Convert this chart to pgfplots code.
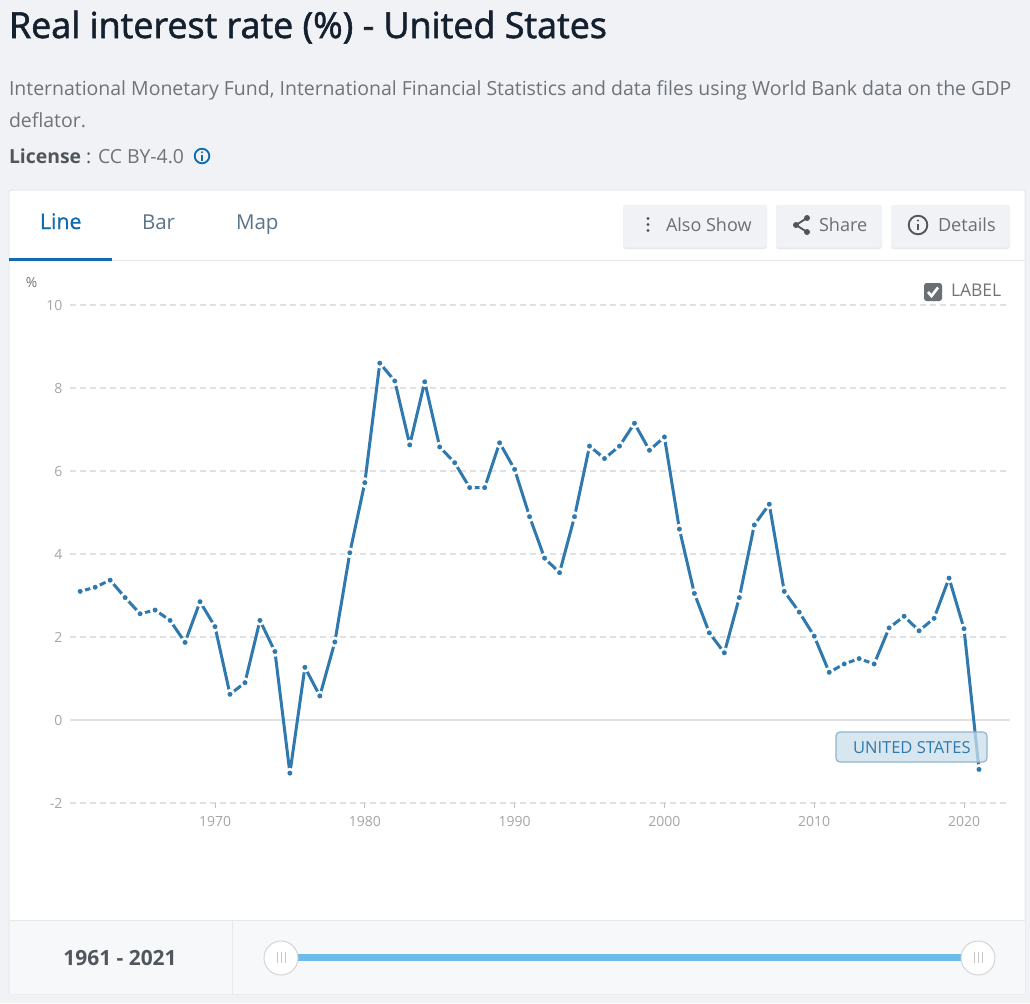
\documentclass[border=0pt]{standalone}
\usepackage{fontspec}
\usepackage{pgfplots}
\pgfplotsset{compat=1.18}
\setmainfont{Open Sans}
\newfontfamily\semib[FakeBold=1.6]{Open Sans}
\newfontfamily\semic[FakeBold=1.0]{Open Sans}
\definecolor{pagebg}{HTML}{F0F2F6}
\definecolor{footbg}{HTML}{F7F8FA}
\definecolor{edge}{HTML}{E6E8EB}
\definecolor{titlec}{HTML}{15202E}
\definecolor{subc}{HTML}{6F7378}
\definecolor{darkc}{HTML}{50565B}
\definecolor{tabblue}{HTML}{0F6CB0}
\definecolor{tabgray}{HTML}{5B7489}
\definecolor{linec}{HTML}{2F79AE}
\definecolor{gridc}{HTML}{DFE1E3}
\definecolor{tickc}{HTML}{A3A6A9}
\definecolor{slider}{HTML}{6DBBE8}
\newcommand{\fs}[1]{\fontsize{#1}{#1}\selectfont}
\pgfplotstableread{
year rate
1961 3.10
1962 3.20
1963 3.37
1964 2.95
1965 2.56
1966 2.65
1967 2.40
1968 1.87
1969 2.85
1970 2.25
1971 0.62
1972 0.90
1973 2.40
1974 1.65
1975 -1.28
1976 1.27
1977 0.58
1978 1.88
1979 4.03
1980 5.72
1981 8.60
1982 8.17
1983 6.63
1984 8.15
1985 6.58
1986 6.20
1987 5.60
1988 5.60
1989 6.68
1990 6.04
1991 4.90
1992 3.90
1993 3.55
1994 4.90
1995 6.60
1996 6.30
1997 6.60
1998 7.15
1999 6.50
2000 6.82
2001 4.60
2002 3.05
2003 2.10
2004 1.62
2005 2.95
2006 4.70
2007 5.20
2008 3.10
2009 2.60
2010 2.02
2011 1.15
2012 1.35
2013 1.48
2014 1.35
2015 2.22
2016 2.50
2017 2.15
2018 2.45
2019 3.42
2020 2.20
2021 -1.19
}\ratetable
\tikzset{txt/.style={inner sep=0pt,outer sep=0pt,anchor=base west},
  pxs/.style={x=0.75pt,y=-0.75pt}}
\begin{document}
\begin{tikzpicture}
\begin{scope}[pxs]
\path[use as bounding box] (0,0) rectangle (1030,1003);
\fill[pagebg] (0,0) rectangle (1030,1003);
% heading
\node[txt,text=titlec] at (9,38) {\semib\fs{26.9}Real interest rate (\%) - United States};
\node[txt,text=subc] at (9,95) {\fs{14.6}International Monetary Fund, International Financial Statistics and data files using World Bank data on the GDP};
\node[txt,text=subc] at (9,127) {\fs{14.6}deflator.};
\node[txt,text=darkc] at (9,163) {\fs{14.55}\textbf{License} : \textcolor{subc}{CC BY-4.0}};
\draw[tabblue,line width=1.4] (202,156) circle (7.3);
\fill[tabblue] (202,152.2) circle (1.1);
\fill[tabblue] (201,155) rectangle (203,160.5);
% card
\fill[white,draw=edge,line width=0.75,rounded corners=2] (9,190) rectangle (1025,994);
\fill[footbg] (9.5,920) rectangle (1024.5,993.5);
\draw[edge,line width=0.75] (9,920) -- (1025,920);
\draw[edge,line width=0.75] (232.5,920) -- (232.5,994);
\draw[edge,line width=0.75] (9,260) -- (1025,260);
\fill[tabblue] (9,258) rectangle (112,261);
\node[txt,text=tabblue] at (40,229) {\semic\fs{16.0}Line};
\node[txt,text=tabgray] at (142,229) {\fs{15.4}Bar};
\node[txt,text=tabgray] at (236,229) {\fs{15.4}Map};
% buttons
\foreach \a/\b in {623/767,776/882,891/1010}{
  \fill[edge,rounded corners=2] (\a,205) rectangle (\b,249);
  \fill[pagebg,rounded corners=2] (\a,205) rectangle (\b,247.5);
}
\foreach \yy in {218.5,224.5,230.5}{\fill[darkc] (648,\yy) circle (1.6);}
\node[txt,text=darkc!85] at (666,231) {\fs{13.5}Also Show};
\draw[darkc,line width=1.4] (807,218) -- (796,225) -- (807,232);
\foreach \xx/\yy in {807/218,796/225,807/232}{\fill[darkc] (\xx,\yy) circle (3);}
\node[txt,text=darkc!85] at (819,231) {\fs{13.6}Share};
\draw[darkc,line width=1.4] (918,225) circle (9.3);
\fill[darkc] (918,220.5) circle (1.2);
\fill[darkc] (917,223.5) rectangle (919,230);
\node[txt,text=darkc!85] at (938,231) {\fs{13.6}Details};
% label checkbox
\fill[darkc!85,rounded corners=2] (924,283) rectangle (942,301);
\draw[white,line width=2] (928,292) -- (931.5,296) -- (938,287.5);
\node[txt,text=subc] at (951,296) {\fs{13.1}LABEL};
\node[txt,text=subc] at (26,287) {\fs{10.4}\%};
\end{scope}
% axis
\begin{axis}[
  at={(52.5pt,-602.25pt)},anchor=south west,
  scale only axis,width=705pt,height=373.5pt,
  xmin=1960.32,xmax=2023.07,ymin=-2,ymax=10,
  clip=false,
  axis x line*=bottom,axis y line*=left,
  axis line style={draw=none},
  xtick={1970,1980,1990,2000,2010,2020},
  ytick={-2,0,2,4,6,8,10},
  xticklabel style={font=\fs{10.5},text=tickc},
  yticklabel style={font=\fs{10.5},text=tickc},
  /pgf/number format/assume math mode=true,
  /pgf/number format/1000 sep={},
  major tick length=3.5pt,
  xtick align=outside,
  x tick style={draw=tickc!70,line width=0.6pt},
  y tick style={draw=none},
  xticklabel shift=3pt,
  yticklabel shift=2.2pt,
  ymajorgrids,
  grid style={gridc,line width=1pt,dash pattern=on 4.5pt off 3pt},
]
\addplot[gridc,solid,line width=1.2pt,forget plot] coordinates {(1960.32,0) (2023.07,0)};
\addplot[linec,line width=2.25pt,line join=round,mark=*,mark size=3pt,
  mark options={draw=white,fill=linec,line width=1.9pt,solid}] table[x=year,y=rate] {\ratetable};
\end{axis}
\begin{scope}[pxs]
% series label
\fill[linec!25,fill opacity=0.75,draw=linec!55,line width=0.9,rounded corners=3] (836,732) rectangle (987,762);
\node[txt,text=linec] at (853,753) {\fs{12.4}UNITED STATES};
% slider
\node[anchor=base,inner sep=0pt,text=darkc] at (120,965) {\fs{15.7}\textbf{1961 - 2021}};
\fill[slider] (281,954) rectangle (980,961);
\foreach \cx in {281,978}{
  \fill[white,draw=black!17,line width=0.75] (\cx,958) circle (17);
  \foreach \dx in {-4,0,4}{\draw[black!22,line width=0.6] (\cx+\dx,952) -- (\cx+\dx,963);}
}
\end{scope}
\end{tikzpicture}
\end{document}
